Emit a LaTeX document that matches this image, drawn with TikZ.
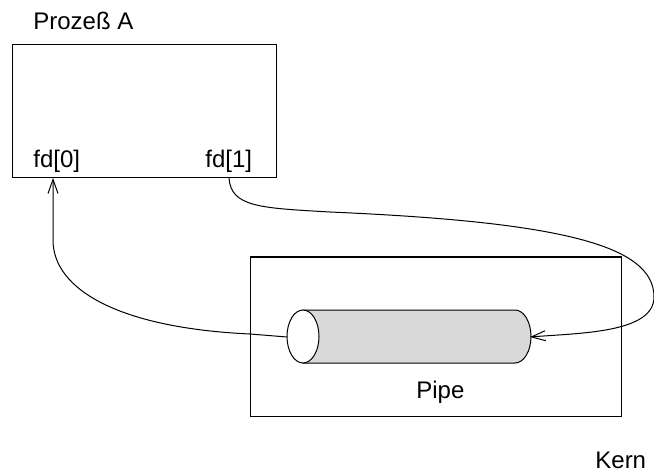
\documentclass[tikz,border=0pt]{standalone}
\usepackage{fontspec}
\setmainfont{Liberation Sans}
\usetikzlibrary{arrows.meta}
\tikzset{
  plainbox/.style={draw, line width=0.5pt, inner sep=0pt},
  lbl/.style={anchor=base west, inner sep=0pt, font=\fontsize{12}{14}\selectfont},
  flow/.style={line width=0.5pt, -{Straight Barb[length=7pt, width=5pt, line width=0.5pt]}}
}
\begin{document}
\begin{tikzpicture}[x=0.5pt,y=-0.5pt]
\useasboundingbox (0,0) rectangle (654,476);
\node[plainbox, minimum width=132pt, minimum height=66.5pt] (proca) at (144,111.5) {};
\node[plainbox, minimum width=185.5pt, minimum height=79.5pt] (kern) at (435.5,336.5) {};
\node[lbl] (procname) at (33,30) {Prozeß A};
\node[lbl] (fdzero) at (33,168) {fd[0]};
\node[lbl] (fdone) at (205,168) {fd[1]};
\node[lbl] (pipename) at (416,398) {Pipe};
\node[lbl] (kernname) at (595,468) {Kern};
% the pipe
\draw[line width=0.5pt, fill=gray!30] (303,310) -- (515,310) arc[start angle=-90, end angle=90, x radius=16, y radius=26.5] -- (303,363) -- cycle;
\draw[line width=0.5pt, fill=white] (303,336.5) ellipse[x radius=16, y radius=26.5];
\coordinate (pipein) at (530,337);
\coordinate (pipeout) at (287,337);
\coordinate (fdonefoot) at (229,178);
\coordinate (fdzerofoot) at (53,178);
\draw[flow] (fdonefoot) .. controls (231,207) and (260,208) .. (330,212) .. controls (560,222) and (654,245) .. (654,297) .. controls (654,333) and (580,333) .. (pipein);
\draw[flow] (pipeout) -- (250,334) .. controls (120,328) and (53,290) .. (53,240) -- (fdzerofoot);
\end{tikzpicture}
\end{document}
